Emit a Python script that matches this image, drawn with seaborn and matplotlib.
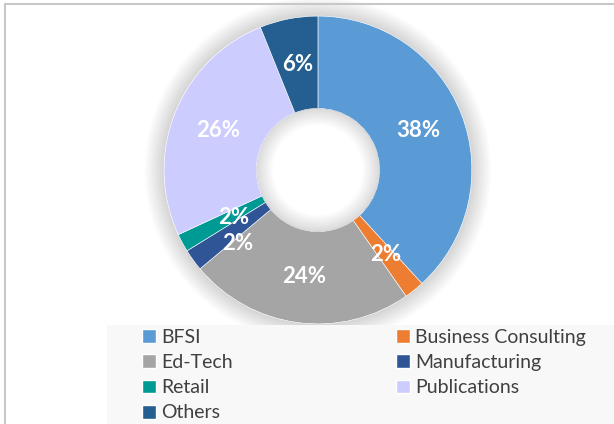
import matplotlib
matplotlib.use('Agg')
import matplotlib.pyplot as plt
from matplotlib.patches import Patch, Rectangle, Wedge
from matplotlib.lines import Line2D
import seaborn as sns

# share of clients by sector (%)
sectors = ['BFSI', 'Business Consulting', 'Ed-Tech', 'Manufacturing',
           'Retail', 'Publications', 'Others']
shares = [38.2, 2.1, 23.6, 2.3, 1.9, 25.8, 6.1]

colors = ['#5B9BD5', '#ED7D31', '#A5A5A5', '#2F5597',
          '#009A94', '#CCCCFF', '#255E91']

sns.set_theme(style='white')
plt.rcParams['font.family'] = ['Lato', 'DejaVu Sans']

fig = plt.figure(figsize=(6.14, 4.24), dpi=100)
ax = fig.add_axes([0.2296, 0.1816, 0.5765, 0.835])

# soft shadow outside the ring
for i in range(14):
    ax.add_patch(Wedge((0, 0), 1.0 + 0.009 * (i + 1), 0, 360,
                       width=0.009 * (i + 1), color='black',
                       alpha=0.011, lw=0, zorder=0))

wedges, texts, autotexts = ax.pie(
    shares, colors=colors, startangle=90, counterclock=False, radius=1,
    autopct='%1.0f%%', pctdistance=0.70,
    wedgeprops=dict(width=0.60, edgecolor='white', linewidth=0.4),
    textprops=dict(color='white', fontsize=16, fontweight='bold'))

# inner shadow in the hole
for i in range(12):
    ax.add_patch(Wedge((0, 0), 0.40, 0, 360, width=0.009 * (i + 1),
                       color='black', alpha=0.012, lw=0, zorder=2))

# small label nudges like the original (crowded slices)
x, y = autotexts[3].get_position()
autotexts[3].set_position((x + 0.045, y - 0.067))
x, y = autotexts[4].get_position()
autotexts[4].set_position((x + 0.071, y + 0.024))

ax.set_xlim(-1.15, 1.15)
ax.set_ylim(-1.15, 1.15)
ax.set_aspect('equal')
ax.axis('off')

# legend panel background
fig.add_artist(Rectangle((107 / 614, 0), 1, (424 - 325) / 424,
                         transform=fig.transFigure, facecolor='#F8F8F8',
                         edgecolor='none', zorder=2))

# chart-area border (left and top visible)
fig.add_artist(Line2D([5 / 614, 5 / 614], [0, 1 - 3.5 / 424],
                      transform=fig.transFigure, color='#C8C8C8', lw=1.5))
fig.add_artist(Line2D([5 / 614, 1], [1 - 3.5 / 424, 1 - 3.5 / 424],
                      transform=fig.transFigure, color='#C8C8C8', lw=1.5))

order = [0, 2, 4, 6, 1, 3, 5]
handles = [Patch(facecolor=colors[i], label=sectors[i]) for i in order]
leg = fig.legend(handles=handles, loc='upper left',
                 bbox_to_anchor=(142 / 614, 1 - 329 / 424), ncol=2,
                 frameon=False, fontsize=14, handlelength=0.72,
                 handleheight=0.72, handletextpad=0.26, columnspacing=8.4,
                 labelspacing=0.42, borderpad=0, borderaxespad=0)
for t in leg.get_texts():
    t.set_color('#404040')
leg.set_zorder(5)

fig.savefig('out.png', dpi=100)
